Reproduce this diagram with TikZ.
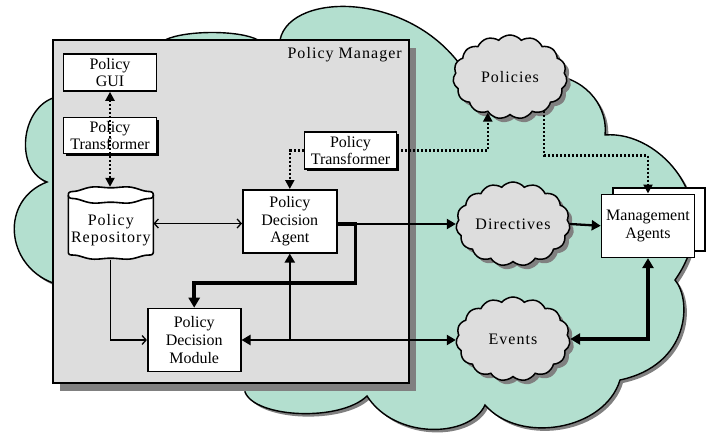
\documentclass[tikz,border=0pt]{standalone}
\usepackage{fontspec}
\setmainfont{Liberation Serif}
\newfontfamily\spacedfont[LetterSpace=6.5]{Liberation Serif}
\usetikzlibrary{arrows.meta,shapes.symbols,shadows,calc}
\definecolor{cloudgreen}{RGB}{179,223,207}
\definecolor{panelgray}{RGB}{221,221,221}
\definecolor{shadowgray}{RGB}{128,128,128}

\begin{document}
\begin{tikzpicture}[x=1pt,y=1pt,
  every node/.style={font=\fontsize{16}{17.6}\selectfont, align=center, inner sep=0pt},
  whitebox/.style={draw, fill=white, line width=1.6pt},
  tbox/.style={whitebox, general shadow={fill=black, shadow xshift=2pt, shadow yshift=-2pt}},
  smallcloud/.style={cloud, cloud puffs=15, cloud puff arc=100, cloud ignores aspect,
    draw, line width=1.5pt, fill=panelgray, minimum width=114pt, minimum height=84pt,
    general shadow={fill=shadowgray, shadow xshift=4pt, shadow yshift=-4pt},
    font=\spacedfont\fontsize{16}{17.6}\selectfont},
  dotline/.style={line width=2.2pt, dash pattern=on 2pt off 2pt,
    >={Triangle[length=9pt,width=9pt]}},
  thinline/.style={line width=1.3pt, >={Straight Barb[length=4pt,width=9pt]}},
  midline/.style={line width=2.3pt, >={Triangle[length=9pt,width=10pt]}},
  thickline/.style={line width=3.6pt, >={Triangle[length=10pt,width=11pt]}}]

\useasboundingbox (0,0) rectangle (710,-434);

% surrounding network cloud
\path[fill=cloudgreen, draw=black, line width=1.4pt,
      general shadow={fill=shadowgray, shadow xshift=3pt, shadow yshift=-3pt}]
  (53,-283)
  .. controls (5,-265) and (0,-200) .. (47,-182)
  .. controls (15,-170) and (20,-110) .. (53,-98)
  -- (165,-40)
  .. controls (185,-30) and (240,-30) .. (258,-40)
  -- (280,-40)
  .. controls (290,10) and (420,10) .. (470,-80)
  -- (553,-75)
  .. controls (590,-80) and (608,-110) .. (605,-135)
  .. controls (660,-130) and (728,-205) .. (675,-280)
  .. controls (692,-300) and (690,-365) .. (620,-380)
  .. controls (605,-430) and (520,-445) .. (485,-405)
  .. controls (470,-438) and (395,-440) .. (367,-396)
  .. controls (340,-422) and (255,-418) .. (245,-392)
  -- (245,-370) -- cycle;

% policy manager panel
\node[draw, fill=panelgray, line width=1.6pt, minimum width=356pt, minimum height=343pt,
      general shadow={fill=shadowgray, shadow xshift=7pt, shadow yshift=-8pt}]
  (pm) at (231,-211.5) {};
\node[anchor=base east, font=\spacedfont\fontsize{16}{17.6}\selectfont]
  (pmlabel) at (402,-58) {Policy Manager};

% boxes inside the manager
\node[whitebox, minimum width=93pt, minimum height=37pt] (gui) at (110,-72.5) {Policy\\GUI};
\node[tbox, minimum width=93pt, minimum height=36pt] (ptl) at (110,-135.5) {Policy\\Transformer};
\node[tbox, minimum width=92pt, minimum height=37pt] (ptr) at (350.5,-150.5) {Policy\\Transformer};
\node[whitebox, minimum width=94pt, minimum height=63pt] (agent) at (289.8,-221.3) {Policy\\Decision\\Agent};
\node[whitebox, minimum width=93pt, minimum height=63pt] (module) at (194.2,-340) {Policy\\Decision\\Module};

% policy repository (drum with wavy rims)
\node[minimum width=85pt, minimum height=73pt] (repo) at (110.8,-223.5) {};
\path[fill=white, draw=black, line width=1.6pt]
  plot[domain=180:360, samples=60, smooth] ({110.8+42.5*cos(\x)}, {-252+7*sin(\x)+0.8*sin(7*\x)})
  -- plot[domain=0:180, samples=60, smooth] ({110.8+42.5*cos(\x)}, {-195+8*sin(\x)+0.8*sin(7*\x)})
  -- cycle;
\draw[line width=1.6pt]
  plot[domain=180:360, samples=60, smooth] ({110.8+42.5*cos(\x)}, {-195+8*sin(\x)+0.8*sin(7*\x)});
\node[font=\spacedfont\fontsize{16}{17.6}\selectfont] (repotext) at (110.8,-230) {Policy\\Repository};

% clouds of information
\node[smallcloud] (policies) at (510,-77) {Policies};
\node[smallcloud] (directives) at (513,-224) {Directives};
\node[smallcloud] (events) at (513,-339) {Events};

% management agents (stacked)
\node[whitebox, minimum width=92pt, minimum height=63pt] (magback) at (659,-219.5) {};
\node[whitebox, minimum width=93pt, minimum height=63pt] (magents) at (648,-225.8) {Management\\Agents};

% connectors
\draw[dotline, <->] (gui.south) -- (gui.south |- repo.north);
\draw[dotline, ->] (ptr.west) -| (agent.north);
\draw[dotline, ->] (ptr.east) -| (policies.238);
\draw[dotline, ->] (policies.315) |- ($(magents.north)+(0,38)$) -- (magents.north);

\draw[thinline, <->] (repo.east) -- (repo.east -| agent.west);
\draw[thinline, ->] (repo.south) |- (module.west);

\draw[midline, ->] (agent.east |- directives.west) -- (directives.west);
\draw[thickline, ->] (agent.east |- directives.west) -- ++(18,0)
  |- ($(module.north)+(0,25)$) -- (module.north);
\draw[midline, <->] (module.east) -- (module.east -| events.west);
\draw[midline, ->] (module.east -| agent.south) -- (agent.south);
\draw[midline, ->] (directives.east) -- (magents.west);
\draw[thickline, <->] (events.east) -| (magents.south);

\end{tikzpicture}
\end{document}
